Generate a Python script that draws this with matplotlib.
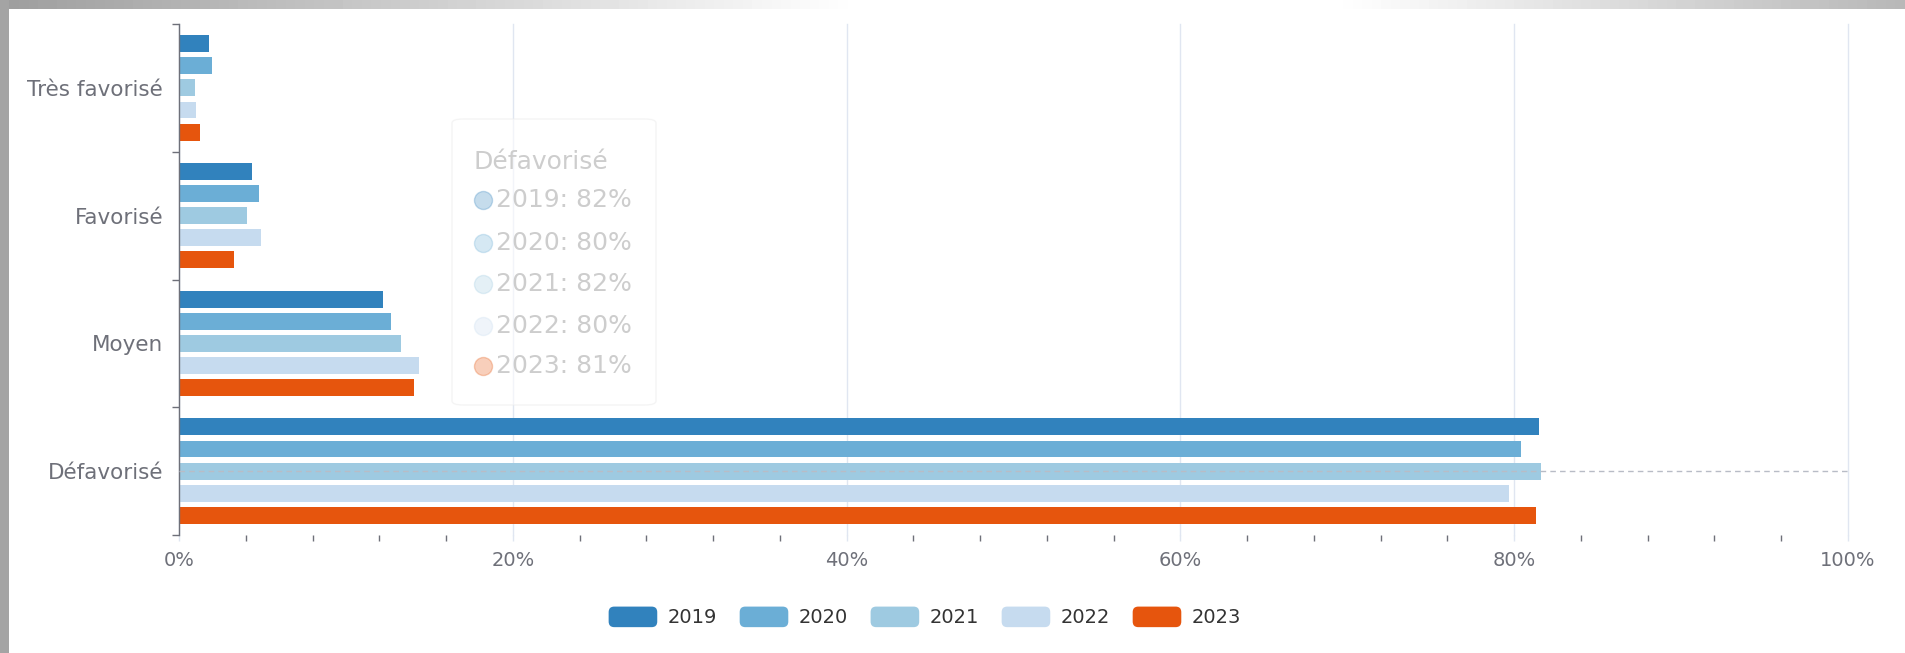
import matplotlib.pyplot as plt
import numpy as np
from matplotlib.patches import FancyBboxPatch, Rectangle, Patch
from matplotlib.legend_handler import HandlerPatch
from matplotlib.lines import Line2D
from matplotlib.ticker import MultipleLocator, FixedLocator, FuncFormatter

plt.rcParams['font.family'] = ['DejaVu Sans']

categories = ["Défavorisé", "Moyen", "Favorisé", "Très favorisé"]
years = ["2019", "2020", "2021", "2022", "2023"]
v2019 = [81.5, 12.2, 4.4, 1.8]
v2020 = [80.4, 12.7, 4.8, 2.0]
v2021 = [81.6, 13.3, 4.1, 0.95]
v2022 = [79.7, 14.35, 4.9, 1.0]
v2023 = [81.3, 14.1, 3.3, 1.25]
series = [v2019, v2020, v2021, v2022, v2023]
colors = ["#3182bd", "#6baed6", "#9ecae1", "#c6dbef", "#e6550d"]

W, H = 1905, 653
fig = plt.figure(figsize=(W / 100, H / 100), dpi=100)
fig.patch.set_facecolor("white")

axis_col = "#6e7079"
grid_col = "#e0e6f1"

ax = fig.add_axes([179 / W, 1 - 535 / H, (1848 - 179) / W, (535 - 24) / H])
y = np.arange(len(categories))
pitch = 0.173
for i, vals in enumerate(series):
    ax.barh(y + (2 - i) * pitch, vals, height=0.132, color=colors[i], zorder=2)

ax.set_xlim(0, 100)
ax.set_ylim(-0.5, 3.5)

# axis pointer on hovered category
ax.plot([0, 100], [0, 0], ls=(0, (4, 3)), color="#b8bcc6", lw=1, zorder=3)

for s in ["top", "right", "bottom"]:
    ax.spines[s].set_visible(False)
ax.spines["left"].set_color(axis_col)
ax.spines["left"].set_linewidth(1)

ax.set_yticks(y)
ax.set_yticklabels(categories)
ax.yaxis.set_minor_locator(FixedLocator(np.arange(-0.5, 4, 1)))
ax.tick_params(axis="y", which="major", length=0, pad=11.5, labelsize=15.5,
               labelcolor=axis_col)
ax.tick_params(axis="y", which="minor", length=5, width=1, color=axis_col)

ax.xaxis.set_major_locator(MultipleLocator(20))
ax.xaxis.set_minor_locator(MultipleLocator(4))
ax.xaxis.set_major_formatter(FuncFormatter(lambda v, p: f"{v:.0f}%"))
ax.tick_params(axis="x", which="major", length=4.5, width=1, color=grid_col,
               pad=7, labelsize=14, labelcolor=axis_col)
ax.tick_params(axis="x", which="minor", length=4.5, width=1, color=axis_col)
ax.grid(axis="x", which="major", color=grid_col, lw=1, zorder=0)
for gl in ax.get_xgridlines():
    gl.set_clip_on(False)
ax.set_axisbelow(True)


def rounded(legend, orig_handle, xdescent, ydescent, width, height, fontsize):
    return FancyBboxPatch((-xdescent, -ydescent), width, height,
                          boxstyle="round,pad=0,rounding_size=4")


handles = [Patch(facecolor=c, edgecolor="none") for c in colors]
fig.legend(handles, years, loc="center", bbox_to_anchor=(925 / W, 1 - 617 / H),
           ncol=5, frameon=False, fontsize=14, handlelength=2.5,
           handleheight=1.25, handletextpad=0.55, columnspacing=1.15,
           labelcolor="#333333",
           handler_map={Patch: HandlerPatch(patch_func=rounded)})

# faded tooltip
tip = FancyBboxPatch((452 / W, 1 - 405 / H), 204 / W, 286 / H,
                     boxstyle="round,pad=0,rounding_size=0.006",
                     transform=fig.transFigure, facecolor="white", alpha=0.6,
                     edgecolor="#eeeeee", lw=1)
fig.patches.append(tip)
fig.text(474 / W, 1 - 162 / H, categories[0], fontsize=18, color="#cdcdcd",
         va="center", ha="left")
tip_y = [200, 243, 284, 326, 366]
for i, vals in enumerate(series):
    fy = 1 - tip_y[i] / H
    fig.add_artist(Line2D([483 / W], [fy], marker="o", markersize=13,
                          color=colors[i], alpha=0.28, lw=0,
                          transform=fig.transFigure))
    fig.text(496 / W, fy, f"{years[i]}: {vals[0]:.0f}%", fontsize=18,
             color="#cdcdcd", va="center", ha="left")

# screenshot frame
band = fig.add_axes([0, 1 - 9 / H, 1, 9 / H])
g = np.concatenate([np.linspace(0.62, 1.0, 90), np.ones(50), np.linspace(1.0, 0.72, 60)])
band.imshow(g[None, :], cmap="gray", vmin=0, vmax=1, aspect="auto")
band.axis("off")
fig.patches.append(Rectangle((0, 0), 9 / W, 1, transform=fig.transFigure,
                             facecolor="#a4a4a4", edgecolor="none"))

fig.savefig("out.png", dpi=100)
